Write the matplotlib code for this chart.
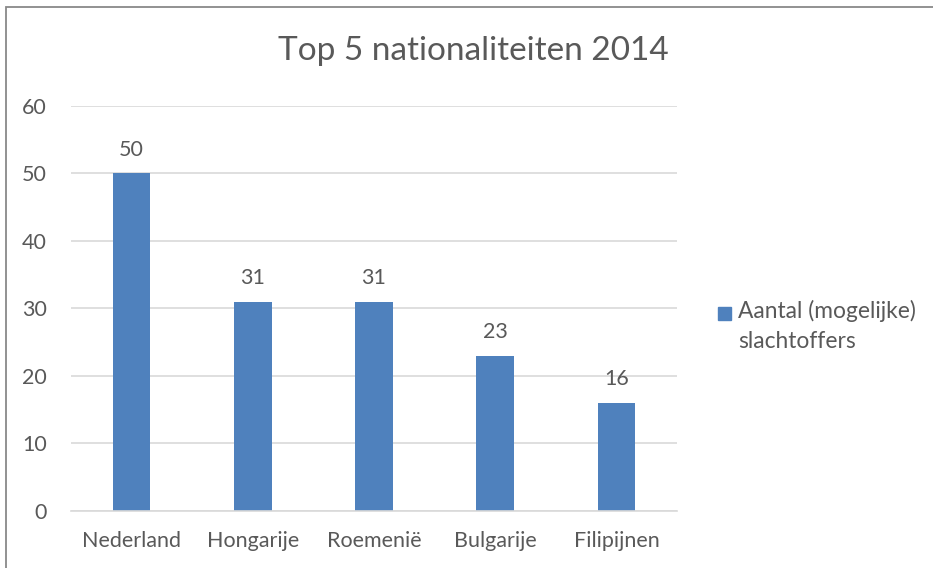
import matplotlib.pyplot as plt
from matplotlib.patches import Rectangle

# ---- data ----
landen = ['Nederland', 'Hongarije', 'Roemenië', 'Bulgarije', 'Filipijnen']
aantal = [50, 31, 31, 23, 16]
reeks = 'Aantal (mogelijke)\nslachtoffers'
titel = 'Top 5 nationaliteiten 2014'

grijs = '#595959'
blauw = '#4F81BD'
plt.rcParams['font.family'] = ['Lato', 'DejaVu Sans']

fig = plt.figure(figsize=(9.33, 5.68), dpi=100)
ax = fig.add_axes([0.0761, 0.1004, 0.6495, 0.713])

# rand om de grafiek (alleen links en boven zichtbaar)
fig.patches.append(Rectangle((6 / 933, -0.1), 1.2, 1 - 7 / 568 + 0.1,
                             transform=fig.transFigure, fill=False,
                             edgecolor='#898989', linewidth=1.3))

x = range(len(landen))
staven = ax.bar(x, aantal, width=0.31, color=blauw, label=reeks, zorder=2)
for xi, v in zip(x, aantal):
    ax.annotate(str(v), (xi, v), xytext=(0, 17), textcoords='offset points',
                ha='center', va='center', fontsize=15.5, color=grijs)

ax.set_xlim(-0.5, len(landen) - 0.5)
ax.set_ylim(0, 60)
ax.set_yticks(range(0, 61, 10))
ax.set_xticks(list(x))
ax.set_xticklabels(landen)
ax.yaxis.grid(True, color='#D9D9D9', linewidth=1.2, zorder=0)
ax.set_axisbelow(True)
for s in ['top', 'right', 'left']:
    ax.spines[s].set_visible(False)
ax.spines['bottom'].set_color('#D9D9D9')
ax.spines['bottom'].set_linewidth(1.2)
ax.tick_params(axis='both', length=0, labelsize=15.5, colors=grijs)
ax.tick_params(axis='x', pad=14.5)
ax.tick_params(axis='y', pad=17.5)

fig.text(0.5075, 0.91, titel, ha='center', va='center', fontsize=24, color=grijs)

# legenda met de hand: vierkantje naast de eerste regel
fig.patches.append(Rectangle((718 / 933, 1 - 320 / 568), 13 / 933, 13 / 568,
                             transform=fig.transFigure, color=blauw))
fig.text(738 / 933, 1 - 300 / 568, reeks, ha='left', va='top', fontsize=16.4,
         color=grijs, linespacing=1.5)

fig.savefig('out.png', dpi=100)
